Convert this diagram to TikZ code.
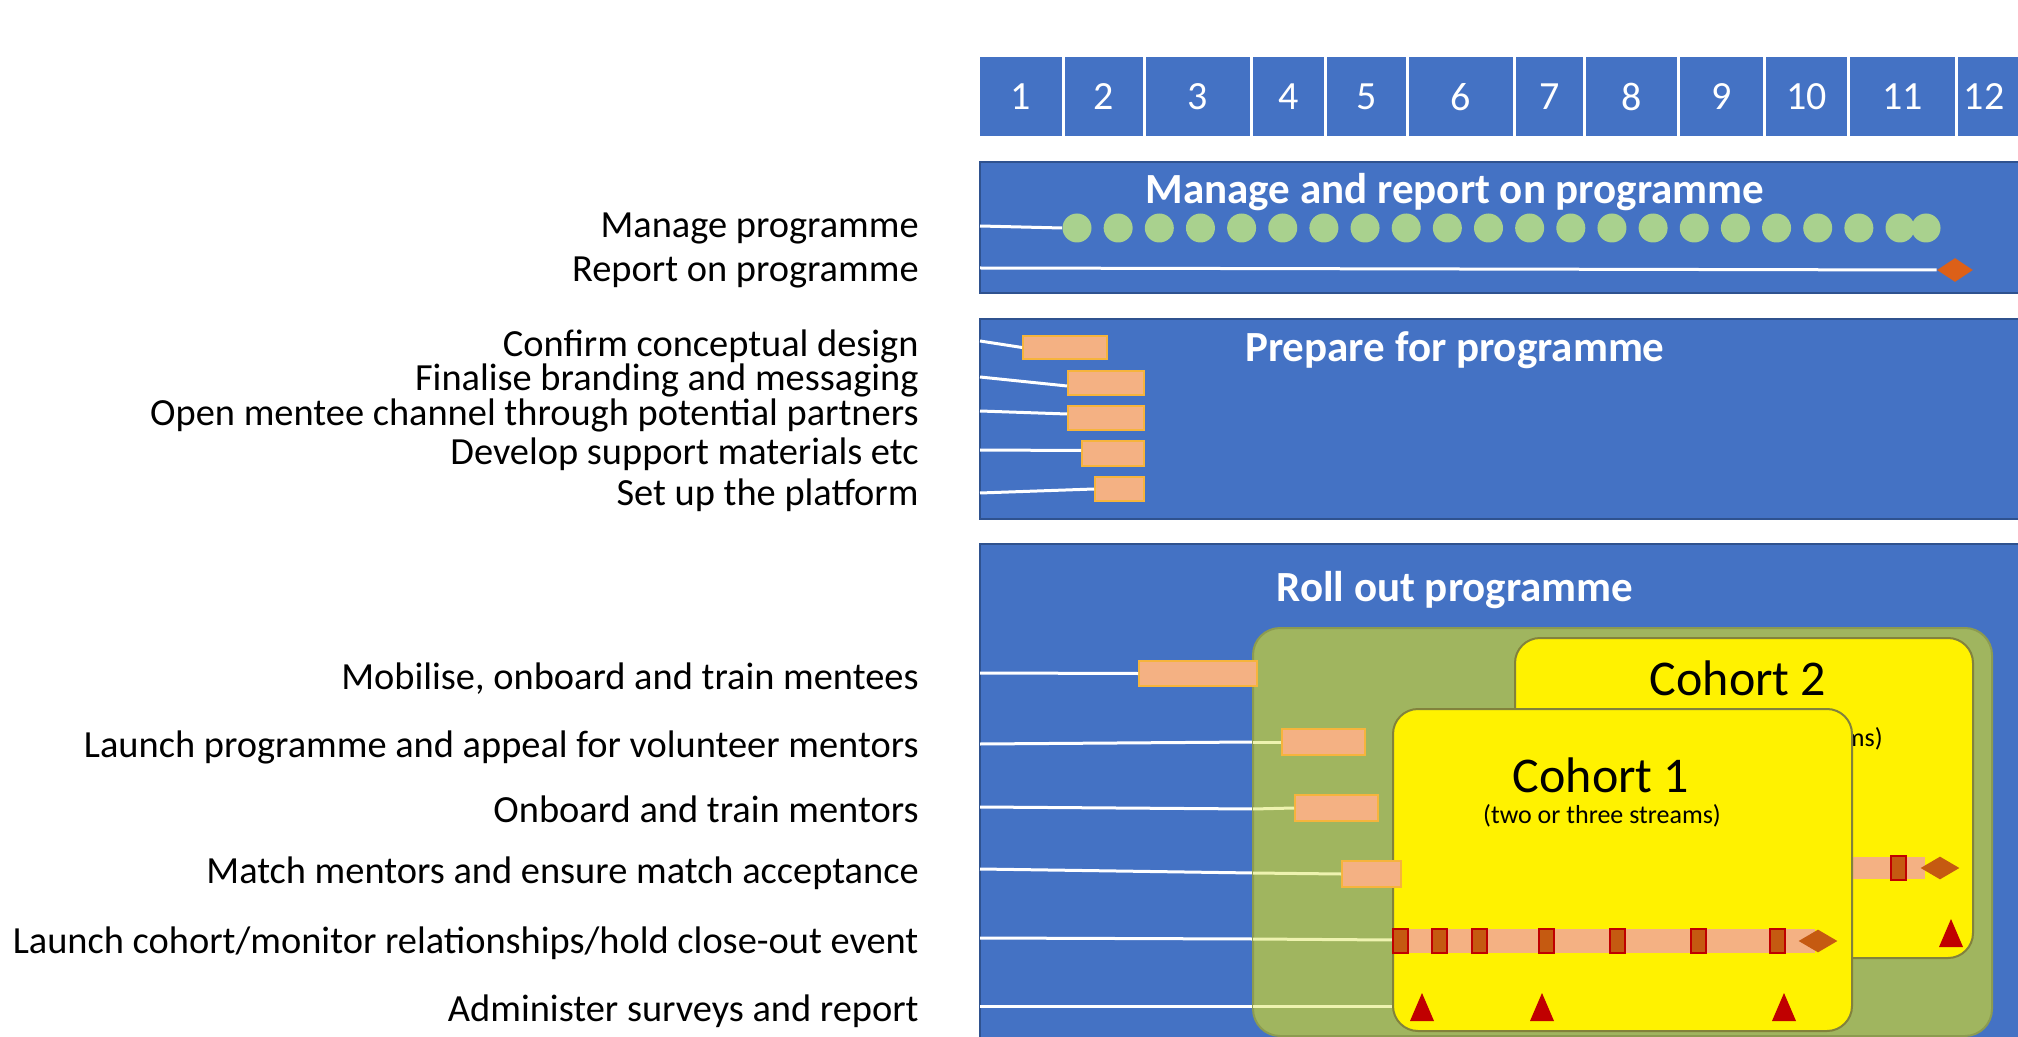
\documentclass[tikz,border=0pt]{standalone}
\usepackage{fontspec}
\setmainfont{Carlito}
\usetikzlibrary{shapes.geometric}
\definecolor{panelblue}{RGB}{68,114,196}
\definecolor{paneledge}{RGB}{47,82,143}
\definecolor{leaf}{RGB}{169,209,142}
\definecolor{salmon}{RGB}{244,177,131}
\definecolor{gold}{RGB}{246,180,60}
\definecolor{olive}{RGB}{160,181,95}
\definecolor{oliveedge}{RGB}{140,155,80}
\definecolor{cohortedge}{RGB}{130,130,60}
\definecolor{paleline}{RGB}{238,243,176}
\definecolor{rust}{RGB}{197,90,17}
\definecolor{darkred}{RGB}{192,0,0}
\definecolor{flame}{RGB}{220,96,24}
\begin{document}
\begin{tikzpicture}[x=0.5pt,y=-0.5pt,
  cell/.style={fill=panelblue},
  digit/.style={text=white, font=\fontsize{20}{24}\selectfont, inner sep=0},
  panel/.style={fill=panelblue, draw=paneledge, line width=1pt},
  paneltitle/.style={text=white, font=\fontsize{21.5}{26}\selectfont\bfseries, inner sep=0},
  tasklabel/.style={anchor=east, inner sep=0, font=\fontsize{19.2}{23}\selectfont,
    text height=13.4pt, text depth=4.8pt},
  task/.style={rectangle, fill=salmon, draw=gold, line width=1pt, inner sep=0},
  band/.style={rectangle, fill=salmon, inner sep=0},
  lead/.style={white, line width=1.5pt},
  leadin/.style={paleline, line width=1.5pt},
  dot/.style={circle, fill=leaf, inner sep=0, minimum size=14.5pt},
  milestone/.style={diamond, fill=rust, inner sep=0, minimum width=19.5pt, minimum height=11.5pt},
  checkin/.style={rectangle, fill=rust, draw=darkred, line width=1pt, inner sep=0,
    minimum width=7.5pt, minimum height=12pt},
  stage/.style={rounded corners=12.5pt, fill=yellow, draw=cohortedge, line width=1pt},
  cohorttitle/.style={font=\fontsize{25}{30}\selectfont, inner sep=0},
  cohortnote/.style={font=\fontsize{13}{16}\selectfont, inner sep=0},
  survey/.style={fill=darkred}
]
\useasboundingbox (0,0) rectangle (2018,1037);
\clip (0,0) rectangle (2018,1037);

% ---- month header ----
\foreach \n/\a/\b in {1/980/1062, 2/1065/1143, 3/1146/1250, 4/1253/1324, 5/1327/1406,
  6/1409/1513, 7/1516/1583, 8/1586/1677, 9/1680/1763, 10/1766/1847, 11/1850/1955}{
  \fill[cell] (\a,57) rectangle (\b,136);
  \node[digit] (m\n) at ({(\a+\b)/2},97) {\n};
}
\fill[cell] (1958,57) rectangle (2030,136);
\node[digit] (m12) at (1984,97) {12};

% ---- activity labels ----
\node[tasklabel] (l1) at (919,229) {Manage programme};
\node[tasklabel] (l2) at (919,273) {Report on programme};
\node[tasklabel] (l3) at (919,348) {Confirm conceptual design};
\node[tasklabel] (l4) at (919,382) {Finalise branding and messaging};
\node[tasklabel] (l5) at (919,417) {Open mentee channel through potential partners};
\node[tasklabel] (l6) at (919,456) {Develop support materials etc};
\node[tasklabel] (l7) at (919,497) {Set up the platform};
\node[tasklabel] (l8) at (919,681) {Mobilise, onboard and train mentees};
\node[tasklabel] (l9) at (919,749) {Launch programme and appeal for volunteer mentors};
\node[tasklabel] (l10) at (919,814) {Onboard and train mentors};
\node[tasklabel] (l11) at (919,875) {Match mentors and ensure match acceptance};
\node[tasklabel] (l12) at (919,945) {Launch cohort/monitor relationships/hold close-out event};
\node[tasklabel] (l13) at (919,1013) {Administer surveys and report};

% ---- manage and report ----
\draw[panel] (980,162) rectangle (2030,293);
\node[paneltitle] (t1) at (1455,192) {Manage and report on programme};
\foreach \i in {0,...,20}{
  \node[dot] (dot\i) at ({1077+41.15*\i},228) {};
}
\node[dot] (dot21) at (1926,228) {};
\coordinate (s1) at (980,226);
\draw[lead] (s1) -- (dot0.west);
\node[milestone, fill=flame, minimum width=18pt, minimum height=12pt] (rep) at (1955,270) {};
\coordinate (s2) at (980,268);
\draw[lead] (s2) -- (rep.west);

% ---- prepare ----
\draw[panel] (980,319) rectangle (2030,519);
\node[paneltitle] (t2) at (1455,350) {Prepare for programme};
\node[task, minimum width=42pt, minimum height=11.5pt] (p1) at (1065,347.5) {};
\node[task, minimum width=38pt, minimum height=12pt] (p2) at (1106,383) {};
\node[task, minimum width=38pt, minimum height=12pt] (p3) at (1106,418) {};
\node[task, minimum width=31pt, minimum height=12.5pt] (p4) at (1113,453.5) {};
\node[task, minimum width=24.5pt, minimum height=12pt] (p5) at (1119.5,489) {};
\coordinate (s3) at (980,341);
\coordinate (s4) at (980,377);
\coordinate (s5) at (980,411);
\coordinate (s6) at (980,450);
\coordinate (s7) at (980,493);
\draw[lead] (s3) -- (p1.west);
\draw[lead] (s4) -- ([yshift=-1.5pt]p2.west);
\draw[lead] (s5) -- ([yshift=2pt]p3.west);
\draw[lead] (s6) -- ([yshift=1.5pt]p4.west);
\draw[lead] (s7) -- (p5.west);

% ---- roll out ----
\draw[panel] (980,544) rectangle (2030,1045);
\node[paneltitle] (t3) at (1455,590) {Roll out programme};
\coordinate (s8) at (980,673);
\coordinate (s9) at (980,744);
\coordinate (s10) at (980,807);
\coordinate (s11) at (980,869);
\coordinate (s12) at (980,938);
\coordinate (s13) at (980,1006);
\coordinate (g9) at (1253,742);
\coordinate (g10) at (1253,809);
\coordinate (g11) at (1253,873);
\coordinate (g12) at (1253,939);
\coordinate (g13) at (1253,1006);
\draw[lead] (s9) -- (g9);
\draw[lead] (s10) -- (g10);
\draw[lead] (s11) -- (g11);
\draw[lead] (s12) -- (g12);
\draw[lead] (s13) -- (g13);

% mentoring phase
\draw[rounded corners=13.5pt, fill=olive, draw=oliveedge, line width=1pt]
  (1253,628) rectangle (1992,1036);
\coordinate (c1w12) at (1393,940);
\coordinate (c1w13) at (1393,1006);
\draw[leadin] (g12) -- (c1w12);
\draw[leadin] (g13) -- (c1w13);

\node[task, minimum width=59pt, minimum height=12.5pt] (r1) at (1198,673.5) {};
\draw[lead] (s8) -- (r1.west);
\node[task, minimum width=41.5pt, minimum height=13pt] (r2) at (1323.5,742) {};
\node[task, minimum width=41.5pt, minimum height=13pt] (r3) at (1336.5,808) {};
\draw[leadin] (g9) -- (r2.west);
\draw[leadin] (g10) -- (r3.west);

% second cohort
\draw[stage] (1515,638) rectangle (1973,958);
\node[cohorttitle] (k2) at (1738,678) {Cohort 2};
\node[cohortnote, anchor=east] (k2n) at (1883,739) {(two or three streams)};
\node[band, minimum width=112.5pt, minimum height=11pt] (b2) at (1812.5,868) {};
\node[checkin] (q2) at (1898,868) {};
\node[milestone, minimum width=19.5pt, minimum height=11.5pt] (d2) at (1940,868) {};
\fill[survey] (1939,947) -- (1963,947) -- (1951,919) -- cycle;

% first cohort
\draw[stage] (1393,709) rectangle (1852,1031);
\node[cohorttitle] (k1) at (1601,775) {Cohort 1};
\node[cohortnote] (k1n) at (1602,816) {(two or three streams)};
\node[task, minimum width=29.5pt, minimum height=13pt] (r4) at (1371.5,874) {};
\draw[leadin] (g11) -- (r4.west);

\node[band, minimum width=211pt, minimum height=12pt] (b1) at (1604,941) {};
\foreach \x [count=\k] in {1400,1439,1479,1546,1617,1698,1777}{
  \node[checkin] (q1\k) at (\x,941) {};
}
\node[milestone] (d1) at (1818,941) {};
\foreach \x in {1422,1542,1784}{
  \fill[survey] (\x-12,1021) -- (\x+12,1021) -- (\x,993) -- cycle;
}
\end{tikzpicture}
\end{document}
